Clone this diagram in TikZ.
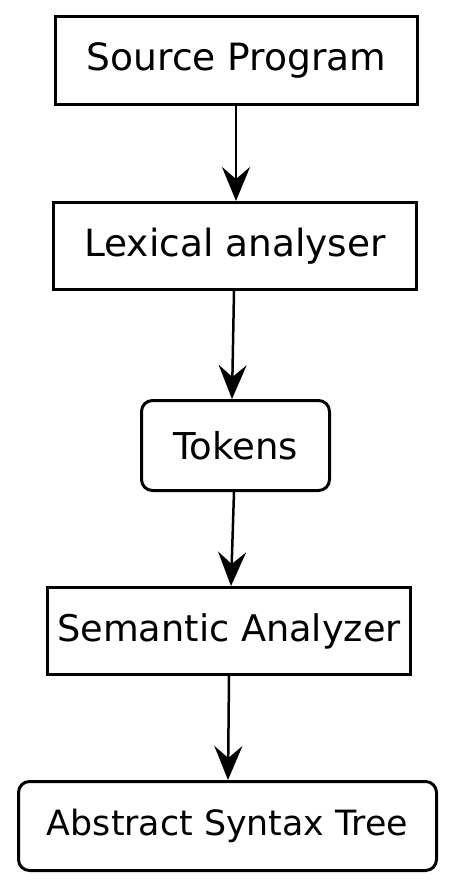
\documentclass[tikz,border=0pt]{standalone}
\usepackage{fontspec}
\setmainfont{DejaVu Sans}
\usetikzlibrary{arrows.meta}
\begin{document}
\begin{tikzpicture}[x=1pt,y=-1pt,
  box/.style={draw=black, line width=3pt, fill=white, inner sep=0pt, align=center},
  rbox/.style={box, rounded corners=11pt},
  lbl/.style={font=\fontsize{#1}{#1}\selectfont},
  conn/.style={line width=2.5pt, -{Stealth[length=34pt,width=28pt,inset=12pt]}}]
\useasboundingbox (0,0) rectangle (456,888);
\node[box, lbl=37.6, minimum width=362pt, minimum height=88pt] (src) at (236.5,60.5) {Source Program};
\node[box, lbl=37.5, minimum width=363pt, minimum height=87pt] (lex) at (235,246) {Lexical analyser};
\node[rbox, lbl=37, minimum width=188pt, minimum height=90pt] (tok) at (235.5,445.5) {Tokens};
\node[box, lbl=36.7, minimum width=363pt, minimum height=87pt] (sem) at (229,631) {Semantic Analyzer};
\node[rbox, lbl=34.8, minimum width=418pt, minimum height=89pt] (ast) at (227.5,826) {Abstract Syntax Tree};
\draw[conn] ([xshift=-0.5pt]src.south) -- ([xshift=1pt]lex.north);
\draw[conn] ([xshift=-1pt]lex.south) -- ([xshift=-3.5pt]tok.north);
\draw[conn] ([xshift=-1.5pt]tok.south) -- ([xshift=2pt]sem.north);
\draw[conn] (sem.south) -- ([xshift=0.5pt]ast.north);
\end{tikzpicture}
\end{document}
